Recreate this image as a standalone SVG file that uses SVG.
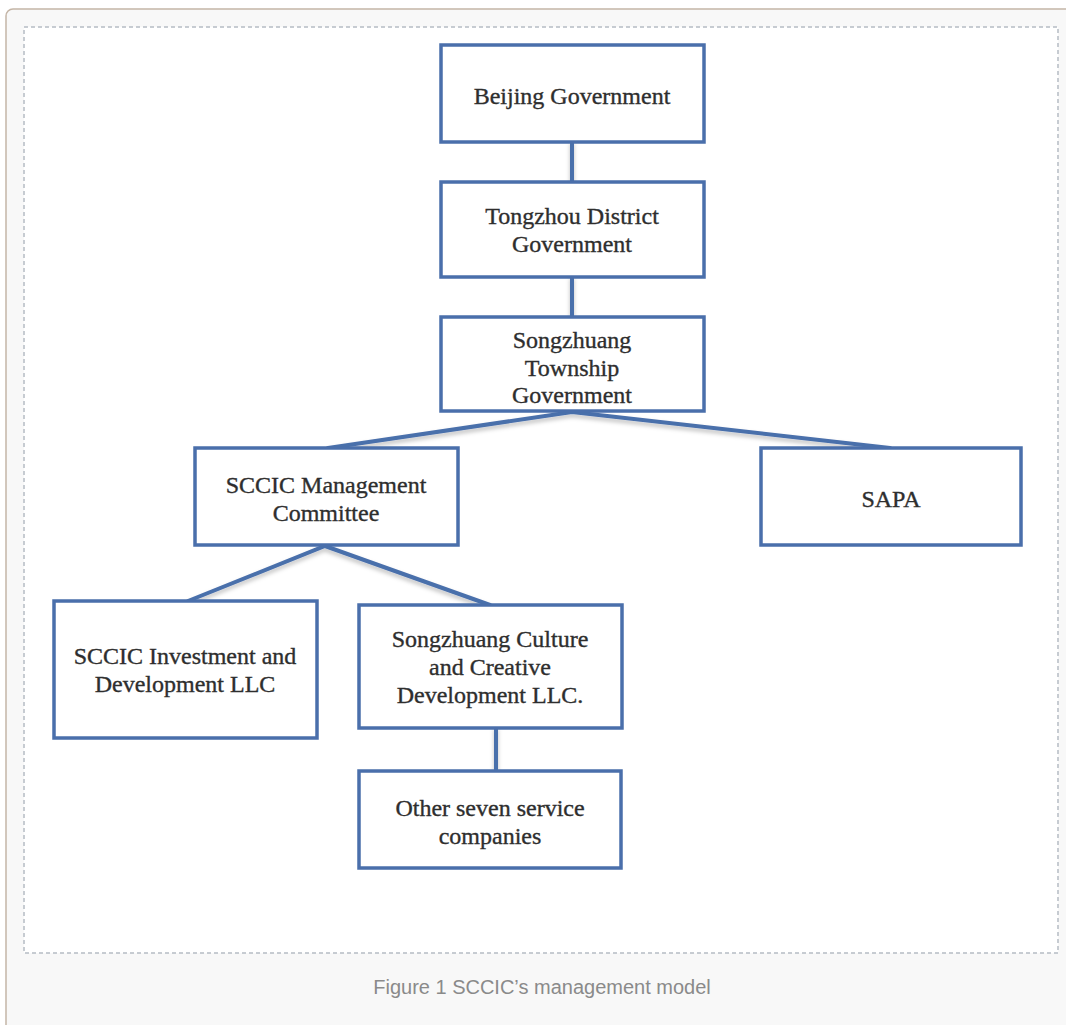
<svg xmlns="http://www.w3.org/2000/svg" width="1066" height="1025" viewBox="0 0 1066 1025">
<style>
.box{fill:#ffffff;stroke:#4a6fab;stroke-width:3.5}
.lbl{font-family:"Liberation Serif","DejaVu Serif",serif;font-size:24px;fill:#2e2e2e;stroke:#2e2e2e;stroke-width:0.35;text-anchor:middle}
.conn{stroke:#4a6fab;stroke-width:4;fill:none;stroke-linecap:round}
.cap{font-family:"Liberation Sans",Arial,sans-serif;font-size:20px;fill:#8a8a8a;text-anchor:middle}
</style>
<defs>
<filter id="sh" x="-10%" y="-50%" width="120%" height="200%">
<feDropShadow dx="0" dy="3" stdDeviation="2" flood-color="#000" flood-opacity="0.25"/>
</filter>
</defs>
<rect x="0" y="0" width="1066" height="1025" fill="#ffffff"/>
<rect x="6" y="9" width="1120" height="1100" rx="7" fill="#f8f8f8" stroke="#c4b5a6" stroke-width="1.5"/>
<rect x="24" y="27" width="1034" height="926" fill="#ffffff" stroke="#b5bcc4" stroke-width="1.5" stroke-dasharray="4 3"/>
<g id="connectors" filter="url(#sh)">
<line class="conn" x1="572" y1="142" x2="572" y2="182"/>
<line class="conn" x1="572" y1="277" x2="572" y2="317"/>
<polyline class="conn" points="328,448 572,412 890,448"/>
<polyline class="conn" points="188,601 325,546 490,605"/>
<line class="conn" x1="496" y1="728" x2="496" y2="771"/>
</g>
<g id="beijing"><rect class="box" x="441" y="45" width="263" height="97"/><text class="lbl" x="572" y="104">Beijing Government</text></g>
<g id="tongzhou"><rect class="box" x="441" y="182" width="263" height="95"/><text class="lbl" x="572" y="224">Tongzhou District</text><text class="lbl" x="572" y="252">Government</text></g>
<g id="township"><rect class="box" x="441" y="317" width="263" height="94"/><text class="lbl" x="572" y="348">Songzhuang</text><text class="lbl" x="572" y="376">Township</text><text class="lbl" x="572" y="403">Government</text></g>
<g id="mgmt"><rect class="box" x="195" y="448" width="263" height="97"/><text class="lbl" x="326" y="493">SCCIC Management</text><text class="lbl" x="326" y="521">Committee</text></g>
<g id="sapa"><rect class="box" x="761" y="448" width="260" height="97"/><text class="lbl" x="891" y="507">SAPA</text></g>
<g id="invest"><rect class="box" x="54" y="601" width="263" height="137"/><text class="lbl" x="185" y="664">SCCIC Investment and</text><text class="lbl" x="185" y="692">Development LLC</text></g>
<g id="culture"><rect class="box" x="359" y="605" width="263" height="123"/><text class="lbl" x="490" y="647">Songzhuang Culture</text><text class="lbl" x="490" y="675">and Creative</text><text class="lbl" x="490" y="703">Development LLC.</text></g>
<g id="other"><rect class="box" x="359" y="771" width="262" height="97"/><text class="lbl" x="490" y="816">Other seven service</text><text class="lbl" x="490" y="844">companies</text></g>
<text class="cap" x="542" y="994">Figure 1 SCCIC’s management model</text>
</svg>
